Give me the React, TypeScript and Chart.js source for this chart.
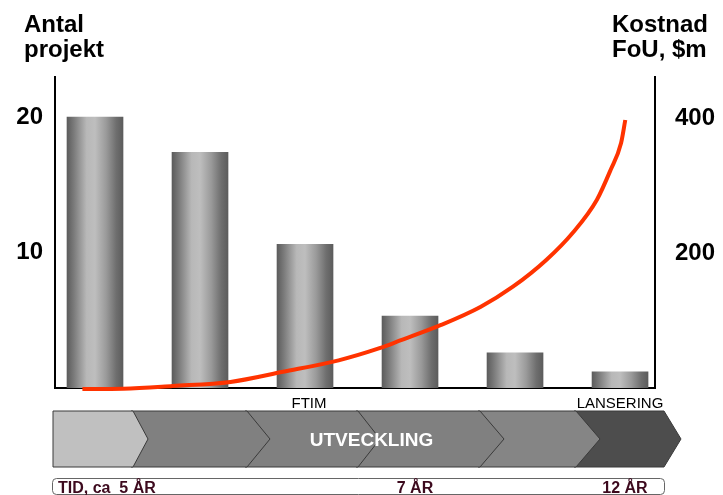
import React, { useEffect, useRef } from "react";
import { Chart, registerables } from "chart.js";

Chart.register(...registerables);

// Categories (project phases, left to right)
const categories = ["Fas 1", "Fas 2", "Fas 3", "Fas 4", "Fas 5", "Fas 6"];
// Number of projects per phase (left axis)
const projectCounts = [20.0, 17.4, 10.6, 5.3, 2.6, 1.2];
// Cost curve sample positions (in category index units) and cost values ($m, right axis)
const costPositions = [-0.12, 0.27, 0.74, 1.29, 1.79, 2.32, 2.71, 2.9, 3.29, 3.67, 3.98, 4.3, 4.55, 4.78, 4.91, 5.01, 5.05];
const costValues = [-1.5, -1, 3, 9, 24, 41, 59, 70, 93, 120, 150, 190, 230, 279, 323, 363, 397];
// Tick labels
const leftTicks = [10, 20];
const rightTicks = [200, 400];
// Texts
const leftTitle = ["Antal", "projekt"];
const rightTitle = ["Kostnad", "FoU, $m"];
const phaseLabels = [
  { text: "FTIM", x: 309 },
  { text: "LANSERING", x: 620 },
];
const timeLabels = [
  { text: "TID, ca  5 ÅR", x: 58, align: "left" },
  { text: "7 ÅR", x: 415, align: "center" },
  { text: "12 ÅR", x: 625, align: "center" },
];
const bandLabel = "UTVECKLING";

const FONT = '"Liberation Sans", Arial, sans-serif';

const decorPlugin = {
  id: "decor",
  afterDraw(chart: any) {
    const c: CanvasRenderingContext2D = chart.ctx;
    c.save();
    // Titles
    c.fillStyle = "#000";
    c.font = `bold 24px ${FONT}`;
    c.textAlign = "left";
    c.textBaseline = "alphabetic";
    c.fillText(leftTitle[0], 24, 32);
    c.fillText(leftTitle[1], 24, 57);
    c.fillText(rightTitle[0], 612, 32);
    c.fillText(rightTitle[1], 612, 57);

    // Phase labels
    c.font = `15px ${FONT}`;
    c.textAlign = "center";
    phaseLabels.forEach((p) => c.fillText(p.text, p.x, 408));

    // Chevron band
    const top = 411, bot = 467, mid = 439;
    const segs = [
      { s: 53, e: 133, t: 148, col: "#c0c0c0" },
      { s: 131, e: 247, t: 270, col: "#808080" },
      { s: 245, e: 358, t: 380, col: "#808080" },
      { s: 356, e: 480, t: 504, col: "#808080" },
      { s: 478, e: 576, t: 600, col: "#858585" },
      { s: 574, e: 664, t: 681, col: "#4d4d4d" },
    ];
    for (let i = segs.length - 1; i >= 0; i--) {
      const g = segs[i];
      c.beginPath();
      c.moveTo(g.s, top);
      c.lineTo(g.e, top);
      c.lineTo(g.t, mid);
      c.lineTo(g.e, bot);
      c.lineTo(g.s, bot);
      c.closePath();
      c.fillStyle = g.col;
      c.fill();
      c.strokeStyle = "#3a3a3a";
      c.lineWidth = 1;
      c.stroke();
    }
    c.fillStyle = "#fff";
    c.font = `bold 19px ${FONT}`;
    c.textAlign = "center";
    c.textBaseline = "middle";
    c.fillText(bandLabel, 371.5, 441);

    // Time box
    c.beginPath();
    (c as any).roundRect(52.5, 478.5, 612, 16, 4);
    c.fillStyle = "#fff";
    c.fill();
    c.strokeStyle = "#666";
    c.lineWidth = 1;
    c.stroke();
    c.fillStyle = "#3d0a1e";
    c.font = `bold 16px ${FONT}`;
    c.textBaseline = "alphabetic";
    timeLabels.forEach((t) => {
      c.textAlign = t.align as CanvasTextAlign;
      c.fillText(t.text, t.x, 493);
    });
    c.restore();
  },
};

export default function App() {
  const ref = useRef<HTMLCanvasElement | null>(null);
  useEffect(() => {
    if (!ref.current) return;
    const barGradient = (ctx: any) => {
      const chart = ctx.chart;
      const xs = chart.scales?.x;
      if (!xs || ctx.type !== "data") return "#999";
      const cx = xs.getPixelForValue(ctx.parsed ? ctx.parsed.x : ctx.dataIndex);
      if (!Number.isFinite(cx)) return "#999";
      const g = chart.ctx.createLinearGradient(cx - 28, 0, cx + 28, 0);
      g.addColorStop(0, "#5c5c5c");
      g.addColorStop(0.12, "#7a7a7a");
      g.addColorStop(0.35, "#b8b8b8");
      g.addColorStop(0.5, "#bebebe");
      g.addColorStop(0.7, "#9a9a9a");
      g.addColorStop(0.88, "#6e6e6e");
      g.addColorStop(1, "#5c5c5c");
      return g;
    };
    const chart = new Chart(ref.current, {
      type: "bar",
      data: {
        labels: categories,
        datasets: [
          {
            type: "line",
            label: "Kostnad FoU",
            data: costPositions.map((x, i) => ({ x, y: costValues[i] })),
            yAxisID: "y1",
            borderColor: "#ff3300",
            borderWidth: 4,
            pointRadius: 0,
            cubicInterpolationMode: "monotone",
            fill: false,
            clip: false,
            order: 0,
          } as any,
          {
            type: "bar",
            label: "Antal projekt",
            data: projectCounts.map((y, i) => ({ x: i, y })),
            yAxisID: "y",
            backgroundColor: barGradient,
            borderWidth: 0,
            barThickness: 56,
            order: 1,
          } as any,
        ],
      },
      options: {
        responsive: false,
        animation: false,
        events: [],
        layout: { padding: { top: 77, bottom: 107, left: 0, right: 0 } },
        plugins: { legend: { display: false }, tooltip: { enabled: false } },
        scales: {
          x: {
            type: "linear",
            offset: false,
            min: -0.381,
            max: 5.333,
            ticks: { display: false },
            grid: { display: false, drawTicks: false, offset: false },
            border: { display: true, color: "#000", width: 2 },
            afterFit: (s: any) => { s.height = 0; },
          },
          y: {
            position: "left",
            min: 0,
            max: 22.95,
            ticks: {
              stepSize: 10,
              includeBounds: false,
              padding: 12,
              color: "#000",
              font: { family: FONT, size: 24, weight: "bold" },
              callback: (v: any) => (leftTicks.includes(Number(v)) ? String(v) : ""),
            },
            grid: { display: false, drawTicks: false },
            border: { display: true, color: "#000", width: 2 },
            afterFit: (s: any) => { s.width = 55; },
          },
          y1: {
            position: "right",
            min: 0,
            max: 460.7,
            ticks: {
              stepSize: 200,
              includeBounds: false,
              padding: 20,
              color: "#000",
              font: { family: FONT, size: 24, weight: "bold" },
              callback: (v: any) => (rightTicks.includes(Number(v)) ? String(v) : ""),
            },
            grid: { display: false, drawTicks: false },
            border: { display: true, color: "#000", width: 2 },
            afterFit: (s: any) => { s.width = 68; },
          },
        },
      } as any,
      plugins: [decorPlugin],
    });
    return () => chart.destroy();
  }, []);
  return (
    <div style={{ position: "fixed", left: 0, top: 0, width: 723, height: 495, background: "#fff" }}>
      <canvas ref={ref} width={723} height={495} style={{ display: "block", width: 723, height: 495 }} />
    </div>
  );
}
